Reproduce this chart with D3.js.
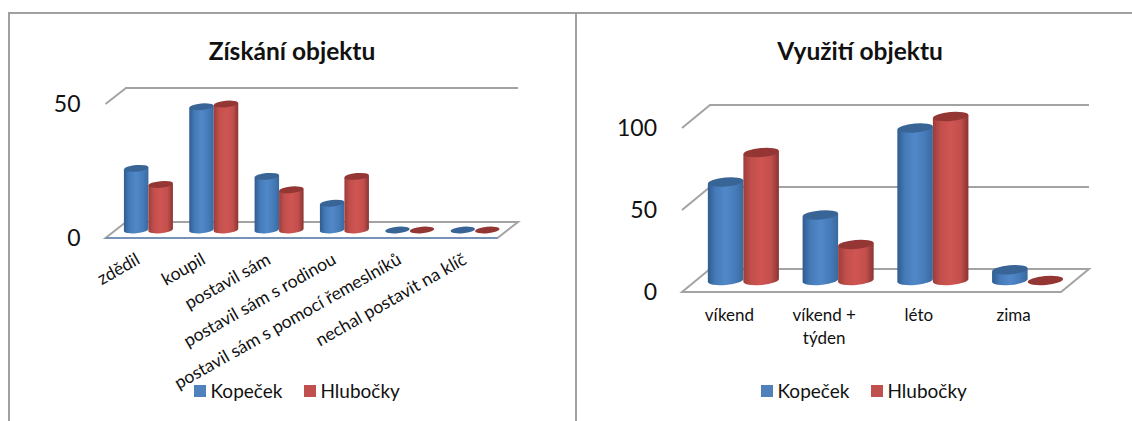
<!DOCTYPE html>
<html lang="cs">
<head>
<meta charset="UTF-8">
<title>Získání a využití objektu</title>
<script src="https://d3js.org/d3.v7.min.js"></script>
<style>
    body { margin: 0; background: #fff; }
    svg { display: block; }
    text { font-family: Lato, "Open Sans", sans-serif; fill: #111; }
    .title { font-size: 24.5px; font-weight: bold; text-anchor: middle; }
    .tick text { font-size: 23px; }
    .cat { font-size: 17px; }
    .cat.slanted { font-size: 17.6px; }
    .legend-label { font-size: 19px; }
    .grid { fill: none; stroke: #a3a3a3; stroke-width: 2; }
    .floor { fill: #fff; stroke: #a3a3a3; stroke-width: 2; }
</style>
</head>
<body>
<svg id="chart" width="1132" height="421"></svg>
<script>
const series = ["Kopeček", "Hlubočky"];

// Získání objektu
const acquireCats = ["zdědil", "koupil", "postavil sám", "postavil sám s rodinou", "postavil sám s pomocí řemeslníků", "nechal postavit na klíč"];
const acquireKopecek = [23, 46, 20, 10, 0, 0];
const acquireHlubocky = [17, 47, 15, 20, 0, 0];
const acquireTicks = [0, 50];

// Využití objektu
const useCats = ["víkend", "víkend +\ntýden", "léto", "zima"];
const useKopecek = [60, 40, 93, 6.5];
const useHlubocky = [78, 22, 100, 0];
const useTicks = [0, 50, 100];

const colors = {
    "Kopeček": {edge: "#2f5c90", body: "#467bb9", light: "#5188c8", right: "#39699f", top: "#386596", key: "#4f81bd"},
    "Hlubočky": {edge: "#9c3d3a", body: "#c24f4c", light: "#cf5552", right: "#8a3431", top: "#943634", key: "#c0504d"}
};
const TILT = -5; // the ellipses lean a little with the perspective

const svg = d3.select("#chart");
const defs = svg.append("defs");

// horizontal shading that makes the bars read as cylinders
series.forEach((s, i) => {
    const grad = defs.append("linearGradient").attr("id", "cyl" + i);
    grad.append("stop").attr("offset", "0%").attr("stop-color", colors[s].edge);
    grad.append("stop").attr("offset", "22%").attr("stop-color", colors[s].body);
    grad.append("stop").attr("offset", "50%").attr("stop-color", colors[s].light);
    grad.append("stop").attr("offset", "78%").attr("stop-color", colors[s].body);
    grad.append("stop").attr("offset", "100%").attr("stop-color", colors[s].right);
});

// outer frame of the two panels
const frame = svg.append("g").attr("fill", "none").attr("stroke", "#a0a0a0").attr("stroke-width", 2);
frame.append("path").attr("d", "M9,421V13H1132");
frame.append("path").attr("d", "M576,13V421");

function drawChart(o) {
    const g = svg.append("g");
    const dx = o.depthX, dy = o.depthY;

    const x = d3.scaleBand().domain(o.cats).range([o.left, o.right]);
    const xInner = d3.scaleBand().domain(series).range([0, x.bandwidth()]).paddingOuter(1 / 3);
    const y = d3.scaleLinear().domain([0, o.max]).range([o.floorY, o.topY]);

    g.append("text").attr("class", "title").attr("x", o.titleX).attr("y", 60).text(o.title);

    // back wall lines, skipping the floor which has its own outline
    g.selectAll(".grid").data(o.ticks.filter(t => t > 0)).enter().append("path")
        .attr("class", "grid")
        .attr("d", t => `M${o.left},${y(t)}L${o.left + dx},${y(t) - dy}H${o.right + dx}`);

    g.append("path").attr("class", "floor")
        .attr("d", `M${o.left},${y(0)}L${o.left + dx},${y(0) - dy}H${o.right + dx}L${o.right},${y(0)}Z`);
    if (o.frontEdge) {
        g.append("path").attr("fill", "none").attr("stroke", o.frontEdge).attr("stroke-width", 2)
            .attr("d", `M${o.left},${y(0)}H${o.right}`);
    }

    const axis = d3.axisLeft(y).tickValues(o.ticks).tickSize(0).tickPadding(25);
    g.append("g").attr("transform", `translate(${o.left},0)`).call(axis).call(a => a.select(".domain").remove());

    // cylinders, drawn series by series so the second overlaps the first
    const rx = xInner.bandwidth() / 2, ry = o.ry;
    const lean = rx * Math.sin(-TILT * Math.PI / 180);
    series.forEach((s, si) => {
        const rows = o.cats.map((c, i) => ({c: c, v: o.values[si][i]}));
        const cols = g.append("g").selectAll("g").data(rows).enter().append("g")
            .attr("transform", d => `translate(${x(d.c) + xInner(s) + dx / 2},0)`);
        const base = y(0) - dy / 2;
        cols.filter(d => d.v > 0).append("path")
            .attr("fill", `url(#cyl${si})`)
            .attr("d", d => {
                const top = y(d.v) - dy / 2;
                return `M0,${top + lean}V${base + lean}A${rx},${ry} ${TILT} 0 0 ${2 * rx},${base - lean}V${top - lean}Z`;
            });
        cols.append("ellipse")
            .attr("rx", rx).attr("ry", ry)
            .attr("transform", d => `translate(${rx},${y(d.v) - dy / 2}) rotate(${TILT})`)
            .attr("fill", colors[s].top);
    });

    // category labels
    const labels = g.append("g").selectAll("text").data(o.cats).enter().append("text").attr("class", "cat");
    if (o.rotate) {
        labels.classed("slanted", true).attr("text-anchor", "end")
            .attr("transform", d => `translate(${x(d) + x.bandwidth() / 2 + o.labelDx},${o.labelY}) rotate(${o.rotate})`)
            .text(d => d);
    } else {
        labels.attr("text-anchor", "middle")
            .attr("transform", d => `translate(${x(d) + x.bandwidth() / 2},${o.labelY})`)
            .selectAll("tspan").data(d => d.split("\n")).enter().append("tspan")
            .attr("x", 0).attr("dy", (d, i) => i ? 23 : 0).text(d => d);
    }

    // legend
    const leg = g.append("g").selectAll("g").data(series).enter().append("g")
        .attr("transform", (d, i) => `translate(${o.legendX[i]},385)`);
    leg.append("rect").attr("width", 12).attr("height", 12).attr("fill", d => colors[d].key);
    leg.append("text").attr("class", "legend-label").attr("x", 16.5).attr("y", 13).text(d => d);
}

drawChart({
    title: "Získání objektu", titleX: 292,
    cats: acquireCats, values: [acquireKopecek, acquireHlubocky],
    max: 50, ticks: acquireTicks,
    left: 105.5, right: 497.5, floorY: 238, topY: 104, depthX: 20.5, depthY: 16, ry: 3.3,
    frontEdge: "#7692b8",
    rotate: -29.5, labelDx: 3, labelY: 263,
    legendX: [194, 304]
});

drawChart({
    title: "Využití objektu", titleX: 860,
    cats: useCats, values: [useKopecek, useHlubocky],
    max: 100, ticks: useTicks,
    left: 682, right: 1061, floorY: 292, topY: 128, depthX: 28, depthY: 23, ry: 4.5,
    labelY: 321,
    legendX: [761, 871]
});
</script>
</body>
</html>
